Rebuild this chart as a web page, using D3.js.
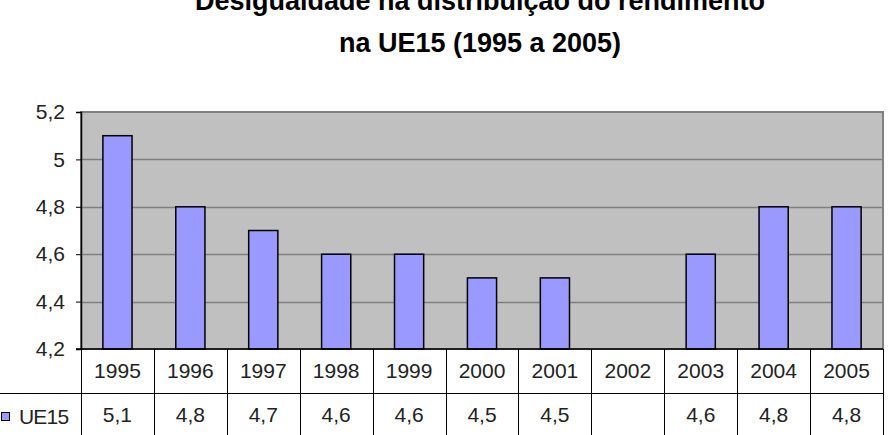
<!DOCTYPE html>
<html>
<head>
<meta charset="utf-8">
<script src="https://cdn.jsdelivr.net/npm/d3@7"></script>
<style>
  body { margin: 0; background: #fff; }
  svg { display: block; font-family: "Liberation Sans", Arial, sans-serif; }
</style>
</head>
<body>
<div id="chart-container"></div>
<script>
// data
var years = ['1995', '1996', '1997', '1998', '1999', '2000', '2001', '2002', '2003', '2004', '2005'];
var ue15 = [5.1, 4.8, 4.7, 4.6, 4.6, 4.5, 4.5, null, 4.6, 4.8, 4.8];
var yTicks = [4.2, 4.4, 4.6, 4.8, 5, 5.2];
var seriesName = 'UE15';
var titleLines = ['Desigualdade na distribuição do rendimento', 'na UE15 (1995 a 2005)'];

var W = 892, H = 435;
var plot = { left: 81, right: 883, top: 112, bottom: 349 };
var tableRow = 44;   // height of the header row under the plot

var fmt = function (v) { return String(v).replace('.', ','); };

var x = d3.scaleBand()
    .domain(years)
    .range([plot.left, plot.right])
    .paddingInner(0.6)
    .paddingOuter(0.3);

var y = d3.scaleLinear()
    .domain([4.2, 5.2])
    .range([plot.bottom, plot.top]);

var svg = d3.select('#chart-container')
    .append('svg')
        .attr('width', W)
        .attr('height', H);

// title (first line is partly off the top, as in the original)
svg.append('g')
    .selectAll('text')
    .data(titleLines)
    .enter().append('text')
        .attr('x', 480)
        .attr('y', function (d, i) { return 10 + i * 42; })
        .attr('text-anchor', 'middle')
        .attr('font-size', 27)
        .attr('font-weight', 'bold')
        .attr('fill', '#000')
        .text(function (d) { return d; });

// plot background
svg.append('rect')
    .attr('x', plot.left)
    .attr('y', plot.top)
    .attr('width', plot.right - plot.left)
    .attr('height', plot.bottom - plot.top)
    .attr('fill', '#c0c0c0')
    .attr('stroke', '#808080')
    .attr('stroke-width', 2);

// gridlines
svg.append('g')
    .selectAll('line')
    .data(yTicks.slice(1, -1))
    .enter().append('line')
        .attr('x1', plot.left)
        .attr('x2', plot.right)
        .attr('y1', function (d) { return Math.round(y(d)) + 0.5; })
        .attr('y2', function (d) { return Math.round(y(d)) + 0.5; })
        .attr('stroke', '#808080')
        .attr('stroke-width', 1.5);

// bars
svg.append('g')
    .selectAll('rect')
    .data(years.map(function (yr, i) { return { year: yr, value: ue15[i] }; })
        .filter(function (d) { return d.value !== null; }))
    .enter().append('rect')
        .attr('x', function (d) { return x(d.year); })
        .attr('y', function (d) { return y(d.value); })
        .attr('width', x.bandwidth())
        .attr('height', function (d) { return plot.bottom - y(d.value); })
        .attr('fill', '#9999ff')
        .attr('stroke', '#000')
        .attr('stroke-width', 1.5);

// y axis
var yAxis = d3.axisLeft(y)
    .tickValues(yTicks)
    .tickSize(5)
    .tickPadding(11)
    .tickFormat(fmt);

var ya = svg.append('g')
    .attr('transform', 'translate(' + plot.left + ',0)')
    .call(yAxis);
ya.select('.domain').attr('stroke', '#000').attr('stroke-width', 1.5);
ya.selectAll('.tick line').attr('stroke', '#000');
ya.selectAll('.tick text')
    .attr('font-size', 21)
    .attr('font-family', '"Liberation Sans", Arial, sans-serif')
    .attr('fill', '#222');

// data table under the plot
var table = svg.append('g').attr('stroke', '#000').attr('stroke-width', 1);
var step = x.step();
var edges = years.map(function (yr) { return x(yr) - step * x.paddingInner() / 2; });
edges.push(plot.right);

table.selectAll('line.v')
    .data(edges)
    .enter().append('line')
        .attr('class', 'v')
        .attr('x1', function (d) { return Math.round(d) + 0.5; })
        .attr('x2', function (d) { return Math.round(d) + 0.5; })
        .attr('y1', plot.bottom)
        .attr('y2', H);

table.append('line')
    .attr('x1', 0)
    .attr('x2', plot.right)
    .attr('y1', plot.bottom + tableRow + 0.5)
    .attr('y2', plot.bottom + tableRow + 0.5);

// x axis line (bottom of plot)
svg.append('line')
    .attr('x1', plot.left - 5)
    .attr('x2', plot.right)
    .attr('y1', plot.bottom)
    .attr('y2', plot.bottom)
    .attr('stroke', '#000')
    .attr('stroke-width', 1.5);

// header row: years
svg.append('g')
    .selectAll('text')
    .data(years)
    .enter().append('text')
        .attr('x', function (d) { return x(d) + x.bandwidth() / 2; })
        .attr('y', plot.bottom + 29)
        .attr('text-anchor', 'middle')
        .attr('font-size', 21)
        .attr('fill', '#222')
        .text(function (d) { return d; });

// value row
svg.append('g')
    .selectAll('text')
    .data(years.map(function (yr, i) { return { year: yr, value: ue15[i] }; }))
    .enter().append('text')
        .attr('x', function (d) { return x(d.year) + x.bandwidth() / 2; })
        .attr('y', plot.bottom + tableRow + 29)
        .attr('text-anchor', 'middle')
        .attr('font-size', 21)
        .attr('fill', '#222')
        .text(function (d) { return d.value === null ? '' : fmt(d.value); });

// legend key in the table
svg.append('rect')
    .attr('x', 1.5)
    .attr('y', 412.5)
    .attr('width', 8)
    .attr('height', 8)
    .attr('fill', '#9999ff')
    .attr('stroke', '#000');

svg.append('text')
    .attr('x', 19)
    .attr('y', plot.bottom + tableRow + 31)
    .attr('font-size', 21)
    .attr('letter-spacing', -0.8)
    .attr('fill', '#222')
    .text(seriesName);
</script>
</body>
</html>
